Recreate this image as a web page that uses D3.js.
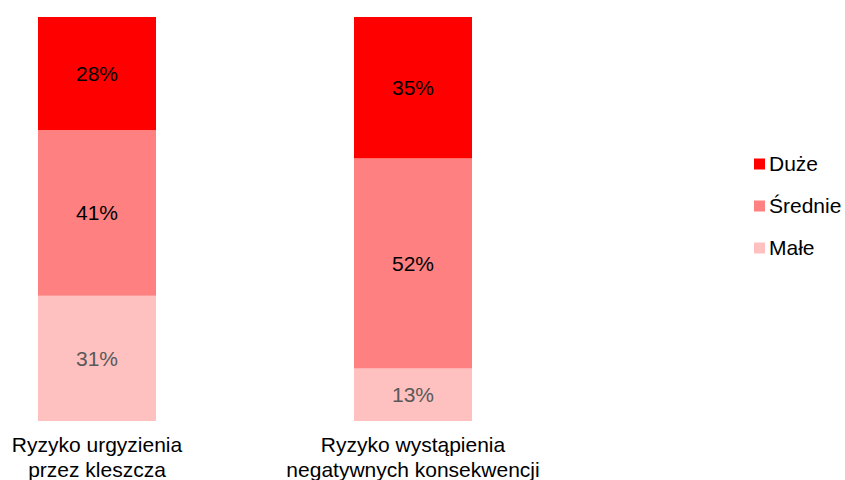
<!DOCTYPE html>
<html>
<head>
<meta charset="utf-8">
<script src="https://cdn.jsdelivr.net/npm/d3@7"></script>
<style>
    body { margin: 0; background: #fff; }
    svg text { font-family: "Liberation Sans", Arial, sans-serif; }
</style>
</head>
<body>
<div id="chart"></div>
<script>
// Categories (two lines each) and series values (percent)
const categories = ["Ryzyko urgyzienia|przez kleszcza", "Ryzyko wystąpienia|negatywnych konsekwencji"];
const seriesNames = ["Małe", "Średnie", "Duże"];
const male = [31, 13];
const srednie = [41, 52];
const duze = [28, 35];
const colors = ["#ffc0c0", "#ff8080", "#ff0000"];
const labelColors = ["#595959", "#000000", "#000000"];

const width = 845;
const height = 480;

const svg = d3.select("#chart")
    .append("svg")
    .attr("width", width)
    .attr("height", height);

// Build rows for the stack
const rows = categories.map((c, i) => ({
    category: c,
    "Małe": male[i],
    "Średnie": srednie[i],
    "Duże": duze[i]
}));

const stack = d3.stack().keys(seriesNames);
const stacked = stack(rows);

const xScale = d3.scaleBand()
    .domain(categories)
    .range([38, 472])
    .paddingInner(0.6266)
    .paddingOuter(0);

const yScale = d3.scaleLinear()
    .domain([0, 100])
    .range([421, 17]);

// Bars
const layers = svg.selectAll("g.layer")
    .data(stacked)
    .enter()
    .append("g")
    .attr("class", "layer")
    .attr("fill", (d, i) => colors[i]);

layers.selectAll("rect")
    .data(d => d)
    .enter()
    .append("rect")
    .attr("x", d => xScale(d.data.category))
    .attr("y", d => yScale(d[1]))
    .attr("width", xScale.bandwidth())
    .attr("height", d => yScale(d[0]) - yScale(d[1]));

// Value labels
stacked.forEach((layer, li) => {
    svg.selectAll(null)
        .data(layer)
        .enter()
        .append("text")
        .attr("x", d => xScale(d.data.category) + xScale.bandwidth() / 2)
        .attr("y", d => (yScale(d[0]) + yScale(d[1])) / 2)
        .attr("dy", "0.35em")
        .attr("text-anchor", "middle")
        .attr("font-size", 21)
        .attr("fill", labelColors[li])
        .text(d => (d[1] - d[0]) + "%");
});

// Category axis labels
const xLabels = svg.selectAll("text.cat")
    .data(categories)
    .enter()
    .append("text")
    .attr("class", "cat")
    .attr("text-anchor", "middle")
    .attr("font-size", 21)
    .attr("fill", "#000");

xLabels.each(function (d) {
    const t = d3.select(this);
    const cx = xScale(d) + xScale.bandwidth() / 2;
    d.split("|").forEach((line, i) => {
        t.append("tspan")
            .attr("x", cx)
            .attr("y", 452 + i * 25)
            .text(line);
    });
});

// Legend (top to bottom: Duże, Średnie, Małe)
const legendItems = seriesNames.map((s, i) => ({ name: s, color: colors[i] })).reverse();
const legend = svg.selectAll("g.legend")
    .data(legendItems)
    .enter()
    .append("g")
    .attr("class", "legend")
    .attr("transform", (d, i) => `translate(754, ${164 + i * 42})`);

legend.append("rect")
    .attr("x", 0)
    .attr("y", -5.5)
    .attr("width", 11)
    .attr("height", 11)
    .attr("fill", d => d.color);

legend.append("text")
    .attr("x", 15)
    .attr("y", 0)
    .attr("dy", "0.35em")
    .attr("font-size", 21)
    .attr("fill", "#000")
    .text(d => d.name);
</script>
</body>
</html>
